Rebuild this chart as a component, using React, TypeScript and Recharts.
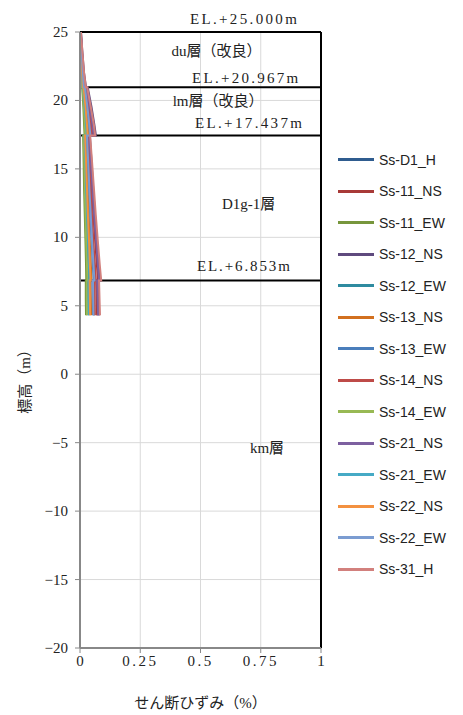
import React from 'react';
import { LineChart, Line, XAxis, YAxis, CartesianGrid, ReferenceLine, ReferenceDot } from 'recharts';

// elevations (m) shared by all series
const ELEV = [25, 23.5, 22, 20.967, 20.967, 19.5, 18.2, 17.437, 17.437, 15.5, 13.5, 11.5, 9.5, 8, 6.853, 6.853, 5.5, 4.3];

const SERIES_NAMES = ['Ss-D1_H', 'Ss-11_NS', 'Ss-11_EW', 'Ss-12_NS', 'Ss-12_EW', 'Ss-13_NS', 'Ss-13_EW', 'Ss-14_NS', 'Ss-14_EW', 'Ss-21_NS', 'Ss-21_EW', 'Ss-22_NS', 'Ss-22_EW', 'Ss-31_H'];

// shear strain (%)
const S_D1_H = [0.003, 0.007, 0.012, 0.017, 0.021, 0.032, 0.041, 0.044, 0.029, 0.035, 0.041, 0.046, 0.053, 0.057, 0.062, 0.055, 0.057, 0.058];
const S_11_NS = [0.003, 0.008, 0.014, 0.020, 0.026, 0.038, 0.049, 0.054, 0.036, 0.043, 0.049, 0.056, 0.064, 0.070, 0.075, 0.067, 0.069, 0.071];
const S_11_EW = [0.001, 0.003, 0.005, 0.007, 0.009, 0.014, 0.017, 0.019, 0.013, 0.015, 0.017, 0.020, 0.023, 0.025, 0.026, 0.024, 0.024, 0.025];
const S_12_NS = [0.004, 0.010, 0.017, 0.025, 0.032, 0.048, 0.060, 0.066, 0.041, 0.048, 0.055, 0.063, 0.071, 0.078, 0.085, 0.076, 0.077, 0.079];
const S_12_EW = [0.002, 0.004, 0.007, 0.010, 0.013, 0.019, 0.024, 0.026, 0.018, 0.021, 0.024, 0.028, 0.032, 0.034, 0.037, 0.033, 0.034, 0.035];
const S_13_NS = [0.002, 0.006, 0.009, 0.013, 0.017, 0.025, 0.032, 0.035, 0.023, 0.028, 0.032, 0.036, 0.041, 0.045, 0.048, 0.043, 0.045, 0.046];
const S_13_EW = [0.003, 0.006, 0.011, 0.016, 0.020, 0.029, 0.038, 0.041, 0.027, 0.033, 0.038, 0.043, 0.049, 0.053, 0.057, 0.051, 0.053, 0.054];
const S_14_NS = [0.003, 0.008, 0.013, 0.018, 0.023, 0.034, 0.044, 0.047, 0.032, 0.038, 0.044, 0.050, 0.056, 0.062, 0.066, 0.059, 0.061, 0.062];
const S_14_EW = [0.001, 0.004, 0.006, 0.008, 0.011, 0.016, 0.020, 0.022, 0.015, 0.018, 0.020, 0.023, 0.026, 0.029, 0.031, 0.028, 0.028, 0.029];
const S_21_NS = [0.004, 0.009, 0.015, 0.022, 0.027, 0.041, 0.052, 0.057, 0.038, 0.045, 0.052, 0.059, 0.068, 0.074, 0.079, 0.071, 0.073, 0.075];
const S_21_EW = [0.002, 0.005, 0.008, 0.011, 0.014, 0.020, 0.026, 0.028, 0.019, 0.023, 0.026, 0.030, 0.034, 0.037, 0.040, 0.036, 0.036, 0.037];
const S_22_NS = [0.002, 0.005, 0.009, 0.012, 0.015, 0.023, 0.029, 0.032, 0.021, 0.025, 0.029, 0.033, 0.038, 0.041, 0.044, 0.040, 0.041, 0.042];
const S_22_EW = [0.003, 0.007, 0.012, 0.016, 0.020, 0.031, 0.039, 0.043, 0.029, 0.034, 0.039, 0.045, 0.051, 0.056, 0.060, 0.054, 0.055, 0.056];
const S_31_H = [0.004, 0.010, 0.017, 0.024, 0.030, 0.045, 0.058, 0.063, 0.042, 0.050, 0.058, 0.066, 0.075, 0.082, 0.088, 0.079, 0.081, 0.083];

const SERIES_VALUES = [S_D1_H, S_11_NS, S_11_EW, S_12_NS, S_12_EW, S_13_NS, S_13_EW, S_14_NS, S_14_EW, S_21_NS, S_21_EW, S_22_NS, S_22_EW, S_31_H];

const COLORS = ['#2F5C8F', '#A83A38', '#77963C', '#5F4A7E', '#2F8BA0', '#D2701F', '#4A7EBB', '#BE4B48', '#98B954', '#7D60A0', '#46AAC5', '#F39140', '#7B9CD1', '#D2807D'];

const X_TICKS = [0, 0.25, 0.5, 0.75, 1];
const Y_TICKS = [-20, -15, -10, -5, 0, 5, 10, 15, 20, 25];

const BOUNDARY_ELEV = [25, 20.967, 17.437, 6.853];
const BOUNDARY_TEXT = ['EL.+25.000m', 'EL.+20.967m', 'EL.+17.437m', 'EL.+6.853m'];
const LAYER_NAMES = ['du層（改良）', 'lm層（改良）', 'D1g-1層', 'km層'];

const X_TITLE = 'せん断ひずみ（%）';
const Y_TITLE = '標高（m）';

const rows = ELEV.map((e, i) => {
  const r: any = { elev: e };
  SERIES_NAMES.forEach((n, k) => { r[n] = SERIES_VALUES[k][i]; });
  return r;
});

const SERIF = '"Liberation Serif", "Noto Sans CJK JP", serif';

const XTick = (props: any) => {
  const { x, y, payload } = props;
  const s = String(payload.value);
  return (
    <text x={x} y={y + 11} textAnchor="middle" fontFamily={SERIF} fontSize={15} fill="#222" letterSpacing={s.includes('.') ? 2.5 : 0}>
      {s}
    </text>
  );
};

const YTick = (props: any) => {
  const { x, y, payload } = props;
  const s = String(payload.value).replace('-', '−');
  return (
    <text x={x} y={y + 5} textAnchor="end" fontFamily={SERIF} fontSize={15} fill="#222">
      {s}
    </text>
  );
};

const makeElLabel = (text: string, frac: number, dy: number, len: number) => (props: any) => {
  const vb = props.viewBox || {};
  return (
    <text x={vb.x + vb.width * frac} y={vb.y + dy} textAnchor="middle" fontFamily={SERIF} fontSize={15} fill="#222" textLength={len} lengthAdjust="spacing">
      {text}
    </text>
  );
};

const makeLayerLabel = (text: string) => (props: any) => {
  const vb = props.viewBox || {};
  const cx = vb.x + (vb.width || 0) / 2;
  const cy = vb.y + (vb.height || 0) / 2;
  return (
    <text x={cx} y={cy} textAnchor="middle" fontFamily={SERIF} fontSize={15} fill="#222">
      {text}
    </text>
  );
};

const LegendBox = () => (
  <div style={{ position: 'absolute', left: 338, top: 144, width: 125 }}>
    {SERIES_NAMES.map((n, i) => (
      <div key={n} style={{ height: 31.5, display: 'flex', alignItems: 'center' }}>
        <span style={{ display: 'inline-block', width: 36, height: 3, background: COLORS[i] }} />
        <span style={{ marginLeft: 5, fontFamily: '"Liberation Sans", Arial, sans-serif', fontSize: 14, color: '#222' }}>{n}</span>
      </div>
    ))}
  </div>
);

const XTitle = (props: any) => {
  const vb = props.viewBox || {};
  return (
    <text x={vb.x + vb.width / 2} y={vb.y + 60} textAnchor="middle" fontFamily={SERIF} fontSize={15} fill="#222">
      {X_TITLE}
    </text>
  );
};

const YTitle = (props: any) => {
  const vb = props.viewBox || {};
  const cx = vb.x + 30;
  const cy = vb.y + vb.height / 2 + 38;
  return (
    <text x={cx} y={cy} transform={`rotate(-90 ${cx} ${cy})`} textAnchor="middle" fontFamily={SERIF} fontSize={15} fill="#222">
      {Y_TITLE}
    </text>
  );
};

export default function App() {
  return (
    <div style={{ position: 'absolute', left: 0, top: 0, width: 463, height: 715, background: '#fff' }}>
      <LineChart width={463} height={715} data={rows} layout="vertical" margin={{ top: 32, right: 142, bottom: 0, left: 0 }}>
        <CartesianGrid stroke="#D9D9D9" strokeWidth={1} horizontalValues={Y_TICKS} verticalValues={X_TICKS} />
        <XAxis type="number" domain={[0, 1]} ticks={X_TICKS} height={67} tick={<XTick />} tickLine={{ stroke: '#888' }} axisLine={{ stroke: '#888', strokeWidth: 2 }} tickSize={5} label={<XTitle />} allowDataOverflow />
        <YAxis type="number" dataKey="elev" domain={[-20, 25]} ticks={Y_TICKS} reversed width={80} tick={<YTick />} tickLine={{ stroke: '#888' }} axisLine={{ stroke: '#888', strokeWidth: 2 }} tickSize={5} tickMargin={7} label={<YTitle />} allowDataOverflow />
        <ReferenceLine y={BOUNDARY_ELEV[0]} stroke="#000" strokeWidth={2} label={makeElLabel(BOUNDARY_TEXT[0], 0.678, -8, 107)} ifOverflow="visible" />
        <ReferenceLine y={BOUNDARY_ELEV[1]} stroke="#000" strokeWidth={2} label={makeElLabel(BOUNDARY_TEXT[1], 0.685, -4, 106)} ifOverflow="visible" />
        <ReferenceLine y={BOUNDARY_ELEV[2]} stroke="#000" strokeWidth={2} label={makeElLabel(BOUNDARY_TEXT[2], 0.699, -8, 107)} ifOverflow="visible" />
        <ReferenceLine y={BOUNDARY_ELEV[3]} stroke="#000" strokeWidth={2} label={makeElLabel(BOUNDARY_TEXT[3], 0.678, -9, 93)} ifOverflow="visible" />
        <ReferenceLine x={1} stroke="#000" strokeWidth={2} />
        <ReferenceDot x={0.566} y={23.25} r={0} fill="none" stroke="none" label={makeLayerLabel(LAYER_NAMES[0])} />
        <ReferenceDot x={0.573} y={19.6} r={0} fill="none" stroke="none" label={makeLayerLabel(LAYER_NAMES[1])} />
        <ReferenceDot x={0.70} y={12.07} r={0} fill="none" stroke="none" label={makeLayerLabel(LAYER_NAMES[2])} />
        <ReferenceDot x={0.776} y={-5.75} r={0} fill="none" stroke="none" label={makeLayerLabel(LAYER_NAMES[3])} />
        {SERIES_NAMES.map((n, i) => (
          <Line key={n} dataKey={n} name={n} stroke={COLORS[i]} strokeWidth={2} dot={false} isAnimationActive={false} type="linear" />
        ))}
      </LineChart>
      <LegendBox />
    </div>
  );
}
